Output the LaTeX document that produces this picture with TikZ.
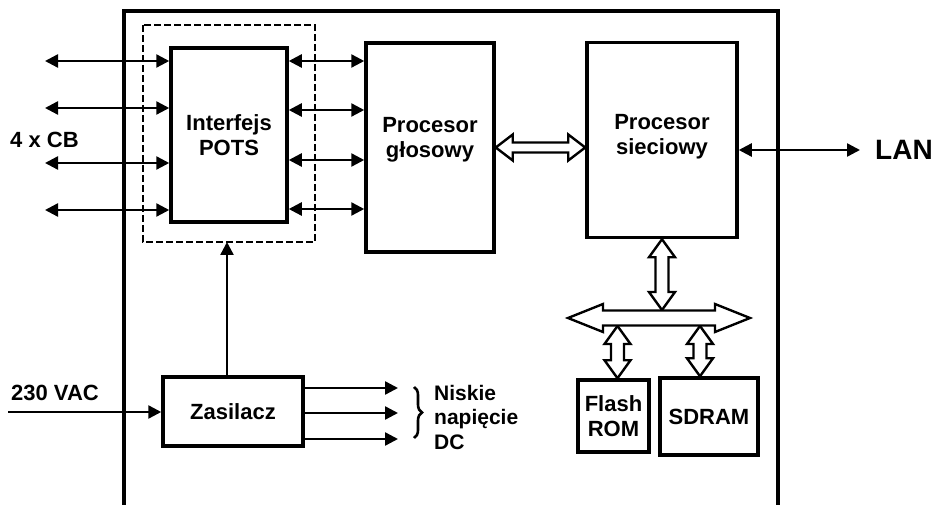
\documentclass[tikz,border=0pt]{standalone}
\usepackage{fontspec}
\setmainfont{Liberation Sans}
\usetikzlibrary{arrows.meta,calc,decorations.pathreplacing}
\newcommand\hollowH[5]{%
  \draw[hollow] let \p1=#1, \p2=#2 in
  (\x1,\y1) -- (\x1+#5pt,\y1+#4pt) -- (\x1+#5pt,\y1+#3pt) -- (\x2-#5pt,\y1+#3pt)
  -- (\x2-#5pt,\y1+#4pt) -- (\x2,\y1) -- (\x2-#5pt,\y1-#4pt) -- (\x2-#5pt,\y1-#3pt)
  -- (\x1+#5pt,\y1-#3pt) -- (\x1+#5pt,\y1-#4pt) -- cycle;}
\newcommand\hollowV[5]{%
  \draw[hollow] let \p1=#1, \p2=#2 in
  (\x1,\y1) -- (\x1+#4pt,\y1-#5pt) -- (\x1+#3pt,\y1-#5pt) -- (\x1+#3pt,\y2+#5pt)
  -- (\x1+#4pt,\y2+#5pt) -- (\x1,\y2) -- (\x1-#4pt,\y2+#5pt) -- (\x1-#3pt,\y2+#5pt)
  -- (\x1-#3pt,\y1-#5pt) -- (\x1-#4pt,\y1-#5pt) -- cycle;}
\tikzset{
  box/.style={draw, line width=3.5pt, fill=white, inner sep=0pt, align=center,
    font=\fontsize{22}{25}\selectfont\bfseries},
  lbl/.style={inner sep=0pt, font=\fontsize{22}{25}\selectfont\bfseries},
  biarrow/.style={line width=2.4pt, {Triangle[length=13pt,width=13pt]}-{Triangle[length=13pt,width=13pt]}},
  onearrow/.style={line width=2.4pt, -{Triangle[length=13pt,width=13pt]}},
  hollow/.style={draw, line width=2.4pt, fill=white, line join=miter},
  frame/.style={line width=3.2pt},
  dashbox/.style={line width=1.8pt, dash pattern=on 7pt off 3pt}
}
\begin{document}
\begin{tikzpicture}[x=1pt,y=-1pt]
\useasboundingbox (0,0) rectangle (938,505);
% outer frame
\draw[frame] (124,505) -- (124,11) -- (778,11) -- (778,505);
% dashed group
\draw[dashbox] (143,25) rectangle (315,242);
% blocks
\node[box, minimum width=116pt, minimum height=174pt] (pots) at (229,135) {Interfejs\\POTS};
\node[box, minimum width=128pt, minimum height=209pt] (glos) at (430,147.5) {};
\node[lbl, align=center] (glostxt) at (430,140) {Procesor\\głosowy};
\node[box, minimum width=150pt, minimum height=195pt] (siec) at (662,140) {};
\node[lbl, align=center] (siectxt) at (662,137) {Procesor\\sieciowy};
\node[box, minimum width=140pt, minimum height=69pt] (zas) at (233,411.5) {Zasilacz};
\node[box, minimum width=71pt, minimum height=72pt] (flash) at (613.5,416) {Flash\\ROM};
\node[box, minimum width=98pt, minimum height=77pt] (sdram) at (709,416.5) {SDRAM};
% labels
\node[lbl, anchor=west] (cb) at (10,140) {4 x CB};
\node[lbl, anchor=west] (vac) at (11,393) {230 VAC};
\node[lbl, anchor=west, font=\fontsize{28}{30}\selectfont\bfseries] (lan) at (875,150) {LAN};
\node[lbl, anchor=west, align=left, font=\fontsize{21}{24.5}\selectfont\bfseries] (dc) at (434,417) {Niskie\\napięcie\\DC};
% CB lines
\foreach \i/\y in {1/61,2/108,3/163,4/210}{
  \coordinate (cb\i) at (45,\y);
  \draw[biarrow] (cb\i) -- (cb\i -| pots.west);
}
\foreach \i/\y in {1/61,2/110,3/160,4/209}{
  \coordinate (pg\i) at (287,\y);
  \draw[biarrow] (pg\i -| pots.east) -- (pg\i -| glos.west);
}
% LAN
\coordinate (lanend) at (860,150);
\draw[biarrow] (siec.east |- lanend) -- (lanend);
% power
\coordinate (acin) at (8,412);
\draw[onearrow] (acin) -- (acin -| zas.west);
\coordinate (dashbot) at (227,242);
\draw[onearrow] (dashbot |- zas.north) -- (dashbot);
\foreach \i/\y in {1/388,2/413,3/439}{
  \coordinate (dc\i) at (398,\y);
  \draw[onearrow] (dc\i -| zas.east) -- (dc\i);
}
\draw[line width=2.6pt, decorate, decoration={brace, amplitude=8pt}] (414,387) -- (414,438);
% hollow arrows
\hollowH{(glos.east)}{(glos.east -| siec.west)}{5}{13}{17}
\coordinate (busL) at (568,318);
\coordinate (busR) at (750,318);
\hollowV{(siec.south)}{($(siec.south |- busL)+(0,-8)$)}{6.5}{13}{18}
\hollowV{($(flash.north |- busL)+(4,8)$)}{($(flash.north)+(4,0)$)}{6.5}{13}{18}
\hollowV{($(sdram.north |- busL)+(-9,8)$)}{($(sdram.north)+(-9,0)$)}{6.5}{13}{18}
\hollowH{(busL)}{(busR)}{7.5}{14}{35}
\end{tikzpicture}
\end{document}
